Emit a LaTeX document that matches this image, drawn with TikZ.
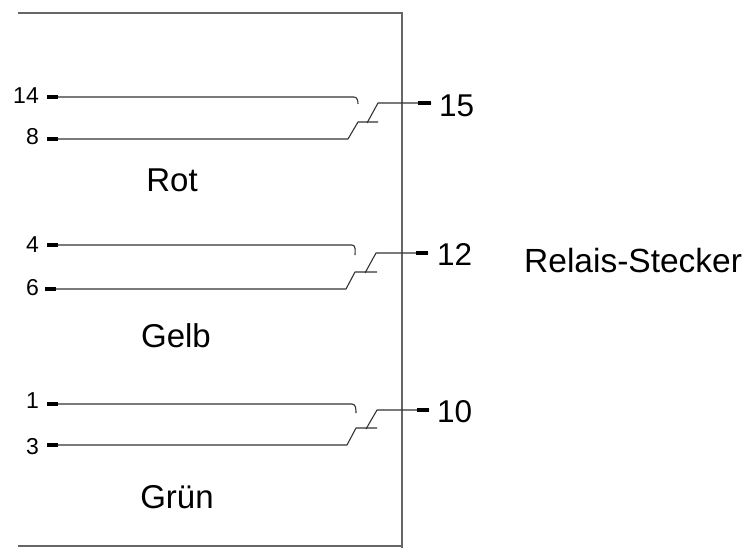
\documentclass[tikz,border=0pt]{standalone}
\usepackage{fontspec}
\setmainfont{Liberation Sans}
\tikzset{
  frame/.style={draw=black!60,line width=1.4pt},
  wire/.style={draw=black!80,line width=1.1pt,line join=round},
  tickmark/.style={draw=black,line width=3.2pt},
  smalllabel/.style={inner sep=0pt,font=\fontsize{23}{23}\selectfont,anchor=east},
  biglabel/.style={inner sep=0pt,font=\fontsize{31.5}{31.5}\selectfont,anchor=west},
  colorlabel/.style={inner sep=0pt,font=\fontsize{33}{33}\selectfont},
}
\begin{document}
\begin{tikzpicture}[x=1pt,y=-1pt]
\useasboundingbox (0,0) rectangle (749,548);
\fill[white] (0,0) rectangle (749,548);
\coordinate (tl) at (18,13);
\coordinate (tr) at (402,13);
\coordinate (br) at (402,548);
\coordinate (bl) at (18,546);
\draw[frame] (tl) -- (tr) -- (br);
\draw[frame] (bl) -- (402,546);

% Rot
\node[smalllabel] (n14) at (39,96) {14};
\node[smalllabel] (n8) at (39,137) {8};
\node[biglabel] (n15) at (439,106) {15};
\node[colorlabel] (rot) at (172,180) {Rot};
\coordinate (a1) at (47,97);
\coordinate (a2) at (47,139);
\coordinate (a3) at (431,103);
\draw[wire] (a1) -- (354,97) to[out=0,in=90] (358,104);
\draw[wire] (a2) -- (348,139) -- (358,122) -- (378,122);
\draw[wire] (a3) -- (378,103) -- (367,123);
\draw[tickmark] (a1) -- ++(11,0);
\draw[tickmark] (a2) -- ++(11,0);
\draw[tickmark] (a3) -- ++(-13,0);

% Gelb
\node[smalllabel] (n4) at (39,245) {4};
\node[smalllabel] (n6) at (39,288) {6};
\node[biglabel] (n12) at (437,255) {12};
\node[colorlabel] (gelb) at (176,336) {Gelb};
\coordinate (b1) at (47,245);
\coordinate (b2) at (45,289);
\coordinate (b3) at (428,253);
\draw[wire] (b1) -- (352,245) to[out=0,in=90] (355,255);
\draw[wire] (b2) -- (346,289) -- (355,272) -- (377,272);
\draw[wire] (b3) -- (376,253) -- (365,273);
\draw[tickmark] (b1) -- ++(11,0);
\draw[tickmark] (b2) -- ++(11,0);
\draw[tickmark] (b3) -- ++(-12,0);

% Gruen
\node[smalllabel] (n1) at (39,401) {1};
\node[smalllabel] (n3) at (39,447) {3};
\node[biglabel] (n10) at (437,412) {10};
\node[colorlabel] (gruen) at (177,497) {Grün};
\coordinate (c1) at (47,404);
\coordinate (c2) at (47,445);
\coordinate (c3) at (429,410);
\draw[wire] (c1) -- (352,404) to[out=0,in=90] (356,413);
\draw[wire] (c2) -- (347,445) -- (356,428) -- (377,428);
\draw[wire] (c3) -- (377,410) -- (366,429);
\draw[tickmark] (c1) -- ++(11,0);
\draw[tickmark] (c2) -- ++(11,0);
\draw[tickmark] (c3) -- ++(-12,0);

\node[inner sep=0pt,anchor=west,font=\fontsize{33.5}{33.5}\selectfont] (rel) at (524,261) {Relais-Stecker};
\end{tikzpicture}
\end{document}
